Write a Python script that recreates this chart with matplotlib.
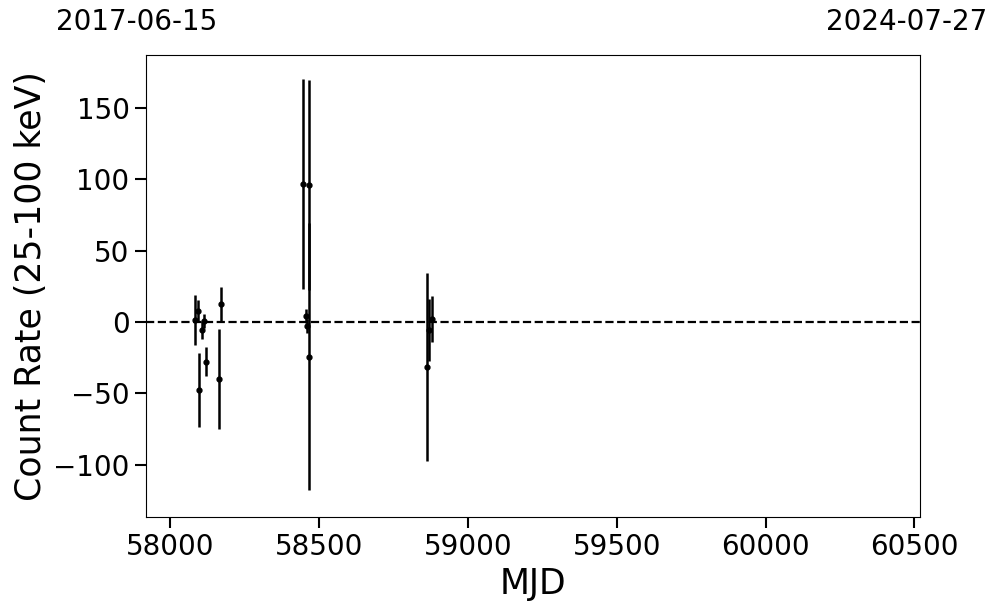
import matplotlib
matplotlib.use("Agg")
import matplotlib.pyplot as plt

mjd = [58084, 58095, 58098, 58108, 58114, 58121, 58165, 58172,
       58446, 58465, 58456, 58458, 58465,
       58864, 58871, 58881]
rate = [1.4, 7.7, -47.7, -5.6, 0.9, -27.8, -40.0, 12.6,
        96.7, 96.0, 4.0, -3.0, -24.3,
        -31.8, -5.6, 1.9]
err = [17.5, 8.0, 26.0, 6.0, 5.0, 10.0, 35.0, 12.0,
       73.6, 73.5, 5.0, 5.0, 93.7,
       66.0, 22.0, 16.0]

start_label = "2017-06-15"
end_label = "2024-07-27"
xlim = (57917, 60520)
ylim = (-136.7, 187.1)

fig = plt.figure(figsize=(9.97, 6.13), dpi=100)
ax = fig.add_axes([145.5/997, 1-517/613, (920.3-145.5)/997, (517-55)/613])
ax.errorbar(mjd, rate, yerr=err, fmt='o', color='black', markersize=3.5,
            elinewidth=1.8, capsize=0)
ax.axhline(0, color='black', linestyle='--', linewidth=1.6)
ax.set_xlim(*xlim)
ax.set_ylim(*ylim)
ax.set_xlabel("MJD", fontsize=25)
ax.set_ylabel("Count Rate (25-100 keV)", fontsize=25)
ax.tick_params(axis='both', labelsize=20, length=8, width=1.5)
ax.set_xticks([58000, 58500, 59000, 59500, 60000, 60500])
ax.set_yticks([-100, -50, 0, 50, 100, 150])
fig.text(56/997, 1-22/613, start_label, fontsize=20, va='center', ha='left')
fig.text(987/997, 1-22/613, end_label, fontsize=20, va='center', ha='right')
fig.savefig("out.png", dpi=100)
